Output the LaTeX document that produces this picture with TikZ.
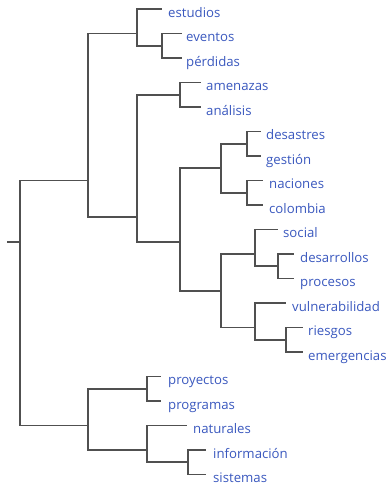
\documentclass[tikz,border=0pt]{standalone}
\usepackage{fontspec}
\setmainfont{Open Sans}
\definecolor{leafblue}{RGB}{58,88,190}
\definecolor{treegray}{RGB}{80,80,80}
\begin{document}
\begin{tikzpicture}[x=1pt,y=-1pt,
  branch/.style={draw=treegray,line width=1.8pt,line cap=rect},
  leaf/.style={anchor=base west,inner sep=0pt,text=leafblue,font=\fontsize{13.2}{14}\selectfont}]
\useasboundingbox (0,0) rectangle (389,485);
% internal nodes
\coordinate (r0) at (8,241.75);
\coordinate (R) at (20,241.75);
\coordinate (N1) at (88,180.5);
\coordinate (N15) at (88,425.5);
\coordinate (N2) at (137,33.5);
\coordinate (N3) at (137,217.25);
\coordinate (N4) at (162,45.75);
\coordinate (N5) at (180,94.75);
\coordinate (N6) at (180,241.75);
\coordinate (N7) at (221,168.25);
\coordinate (N8) at (221,290.75);
\coordinate (N9) at (247,143.75);
\coordinate (N10) at (247,192.75);
\coordinate (N11) at (255,254);
\coordinate (N12) at (255,327.5);
\coordinate (N13) at (278,266.25);
\coordinate (N14) at (286,339.75);
\coordinate (N16) at (147,388.75);
\coordinate (N17) at (147,450);
\coordinate (N18) at (188,462.25);
% leaf line ends and labels
\coordinate (e0) at (161,9);      \node[leaf] (t0) at (168,17) {estudios};
\coordinate (e1) at (181,33.5);   \node[leaf] (t1) at (186,41.5) {eventos};
\coordinate (e2) at (181,58);     \node[leaf] (t2) at (186,66) {pérdidas};
\coordinate (e3) at (200,82.5);   \node[leaf] (t3) at (206,90.5) {amenazas};
\coordinate (e4) at (200,107);    \node[leaf] (t4) at (206,115) {análisis};
\coordinate (e5) at (260,131.5);  \node[leaf] (t5) at (266,139.5) {desastres};
\coordinate (e6) at (260,156);    \node[leaf] (t6) at (266,164) {gestión};
\coordinate (e7) at (262,180.5);  \node[leaf] (t7) at (269,188.5) {naciones};
\coordinate (e8) at (262,205);    \node[leaf] (t8) at (269,213) {colombia};
\coordinate (e9) at (277,229.5);  \node[leaf] (t9) at (283,237.5) {social};
\coordinate (e10) at (293,254);   \node[leaf] (t10) at (300,262) {desarrollos};
\coordinate (e11) at (293,278.5); \node[leaf] (t11) at (300,286.5) {procesos};
\coordinate (e12) at (285,303);   \node[leaf] (t12) at (292,311) {vulnerabilidad};
\coordinate (e13) at (302,327.5); \node[leaf] (t13) at (308,335.5) {riesgos};
\coordinate (e14) at (302,352);   \node[leaf] (t14) at (308,360) {emergencias};
\coordinate (e15) at (160,376.5); \node[leaf] (t15) at (168,384.5) {proyectos};
\coordinate (e16) at (160,401);   \node[leaf] (t16) at (168,409) {programas};
\coordinate (e17) at (186,425.5); \node[leaf] (t17) at (193,433.5) {naturales};
\coordinate (e18) at (205,450);   \node[leaf] (t18) at (213,458) {información};
\coordinate (e19) at (205,474.5); \node[leaf] (t19) at (213,482.5) {sistemas};
% tree
\draw[branch] (r0) -- (R);
\draw[branch] (R) |- (N1);  \draw[branch] (R) |- (N15);
\draw[branch] (N1) |- (N2); \draw[branch] (N1) |- (N3);
\draw[branch] (N2) |- (e0); \draw[branch] (N2) |- (N4);
\draw[branch] (N4) |- (e1); \draw[branch] (N4) |- (e2);
\draw[branch] (N3) |- (N5); \draw[branch] (N3) |- (N6);
\draw[branch] (N5) |- (e3); \draw[branch] (N5) |- (e4);
\draw[branch] (N6) |- (N7); \draw[branch] (N6) |- (N8);
\draw[branch] (N7) |- (N9); \draw[branch] (N7) |- (N10);
\draw[branch] (N9) |- (e5); \draw[branch] (N9) |- (e6);
\draw[branch] (N10) |- (e7); \draw[branch] (N10) |- (e8);
\draw[branch] (N8) |- (N11); \draw[branch] (N8) |- (N12);
\draw[branch] (N11) |- (e9); \draw[branch] (N11) |- (N13);
\draw[branch] (N13) |- (e10); \draw[branch] (N13) |- (e11);
\draw[branch] (N12) |- (e12); \draw[branch] (N12) |- (N14);
\draw[branch] (N14) |- (e13); \draw[branch] (N14) |- (e14);
\draw[branch] (N15) |- (N16); \draw[branch] (N15) |- (N17);
\draw[branch] (N16) |- (e15); \draw[branch] (N16) |- (e16);
\draw[branch] (N17) |- (e17); \draw[branch] (N17) |- (N18);
\draw[branch] (N18) |- (e18); \draw[branch] (N18) |- (e19);
\end{tikzpicture}
\end{document}
